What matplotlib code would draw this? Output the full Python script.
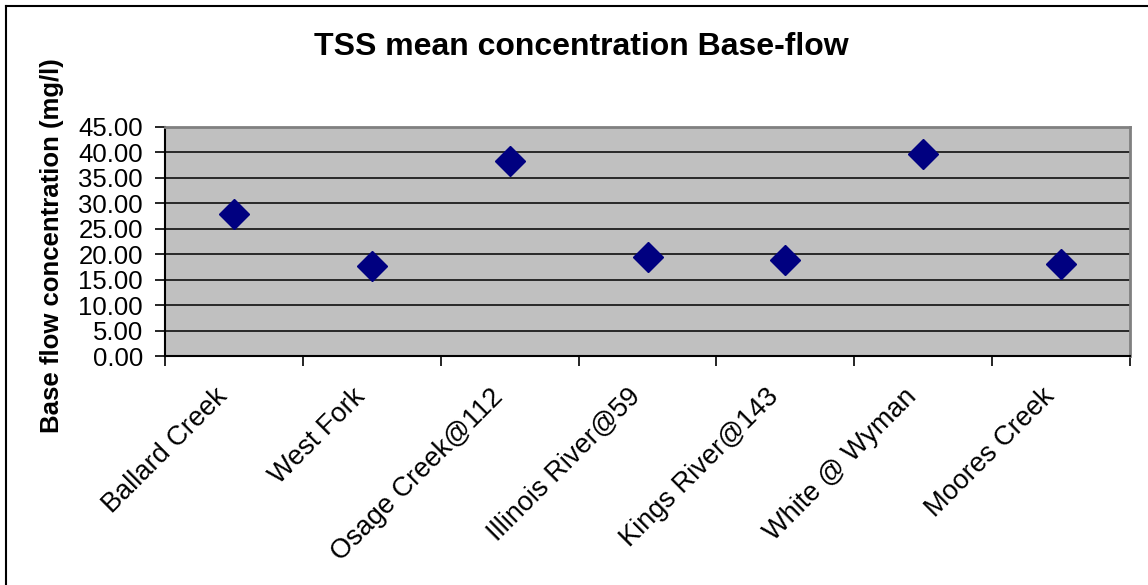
#!/usr/bin/env python3
"""
TSS mean concentration at base flow, one point per sampling site.
Excel-style scatter with a grey plot area and black gridlines.
"""
import matplotlib
matplotlib.use("Agg")
import matplotlib.pyplot as plt
import matplotlib.transforms as mtransforms
from matplotlib.lines import Line2D

sites = ["Ballard Creek", "West Fork", "Osage Creek@112", "Illinois River@59",
         "Kings River@143", "White @ Wyman", "Moores Creek"]
tss_mean = [27.9, 17.7, 38.4, 19.5, 18.9, 39.7, 18.1]   # mg/l
yticks = [0, 5, 10, 15, 20, 25, 30, 35, 40, 45]

plt.rcParams["font.family"] = ["Liberation Sans", "DejaVu Sans"]

W, H = 1148, 585
fig = plt.figure(figsize=(W / 100, H / 100), dpi=100)
ax = fig.add_axes([165 / W, 1 - 356 / H, (1130 - 165) / W, (356 - 127) / H])

ax.set_facecolor("#c0c0c0")
x = range(len(sites))
ax.plot(x, tss_mean, linestyle="none", marker="D", markersize=15,
        color="#000080", zorder=3)

ax.set_xlim(-0.5, len(sites) - 0.5)
ax.set_ylim(0, 45)
ax.set_yticks(yticks)
ax.set_yticklabels([f"{v:.2f}" for v in yticks], fontsize=18.5)
ax.yaxis.grid(True, color="black", linewidth=1.1)
ax.set_axisbelow(True)

# category ticks sit on the boundaries, labels in the middle
ax.set_xticks([i - 0.5 for i in range(len(sites) + 1)])
ax.set_xticklabels([])
ax.set_xticks(list(x), minor=True)
ax.set_xticklabels(sites, minor=True, rotation=45, ha="right", va="top",
                   rotation_mode="anchor", fontsize=19.5)
ax.tick_params(axis="x", which="minor", length=0, pad=20)
ax.tick_params(axis="both", which="major", length=7, width=1.2, color="black")
ax.tick_params(axis="y", pad=9)

shift = mtransforms.ScaledTranslation(-20 / 100, 0, fig.dpi_scale_trans)
for lab in ax.get_xticklabels(minor=True):
    lab.set_transform(lab.get_transform() + shift)

for side in ["top", "right"]:
    ax.spines[side].set_color("#808080")
    ax.spines[side].set_linewidth(2)
for side in ["left", "bottom"]:
    ax.spines[side].set_color("black")
    ax.spines[side].set_linewidth(1.5)

fig.text(52 / W, 1 - 246 / H, "Base flow concentration (mg/l)", fontsize=18.5,
         fontweight="bold", rotation=90, ha="center", va="center")
fig.text(581 / W, 1 - 55 / H, "TSS mean concentration Base-flow", fontsize=23,
         fontweight="bold", ha="center", va="baseline")

# chart-area border (only left and top edges are visible in the crop)
fig.add_artist(Line2D([6 / W, 6 / W], [0, 1 - 6 / H], color="black",
                      linewidth=1.5, transform=fig.transFigure))
fig.add_artist(Line2D([6 / W, 1], [1 - 6 / H, 1 - 6 / H], color="black",
                      linewidth=1.5, transform=fig.transFigure))

fig.savefig("out.png", dpi=100)
